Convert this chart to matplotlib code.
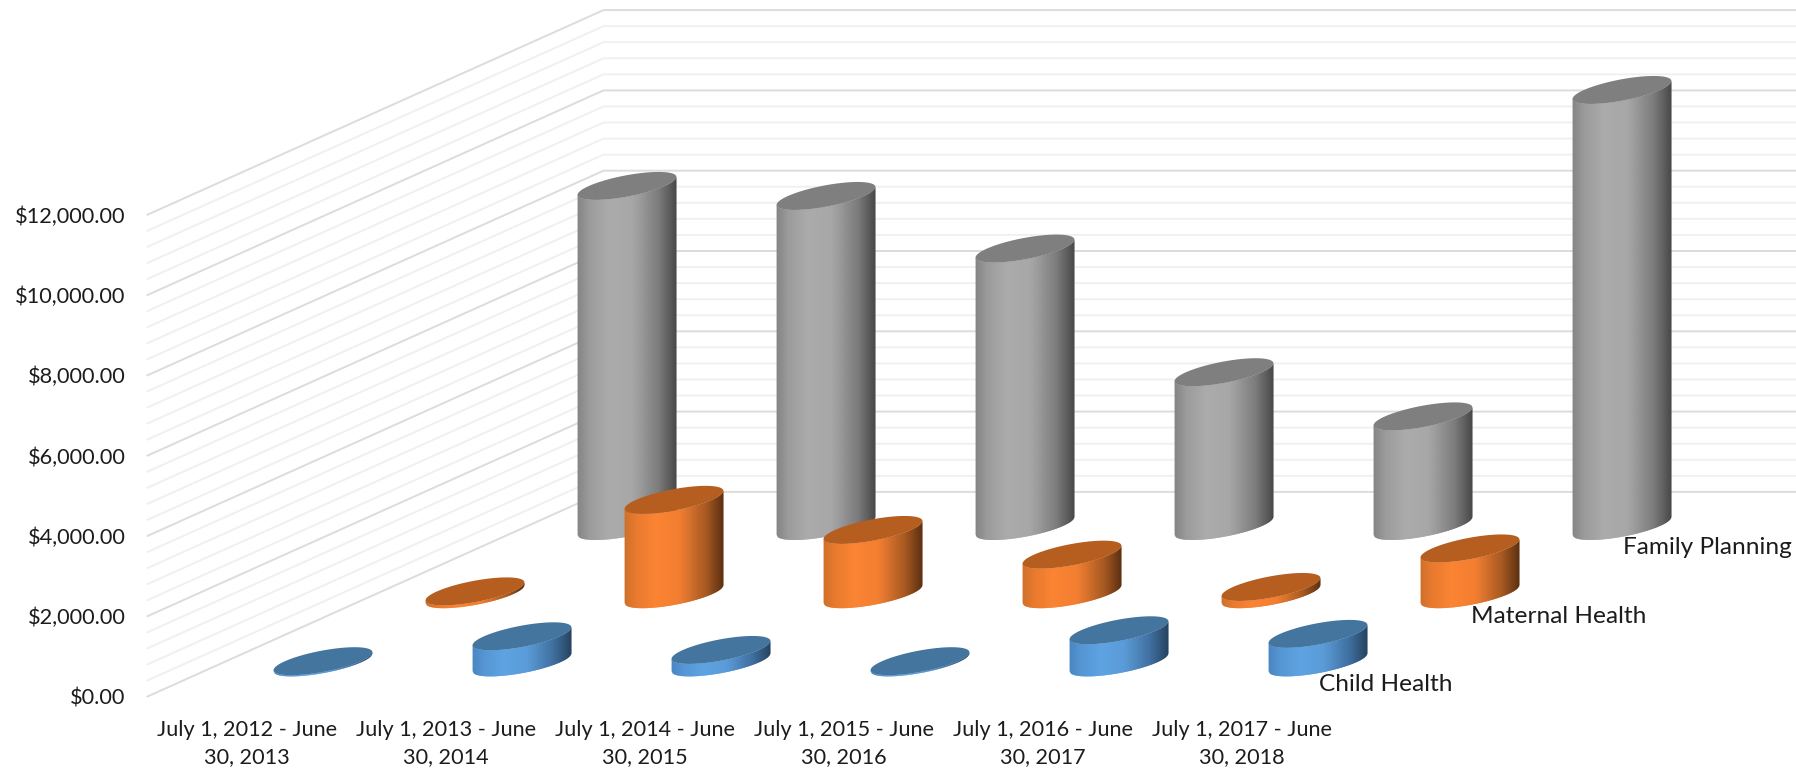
#!/usr/bin/env python3
"""
3D style cylinder chart: funding per fiscal year and health area.
Drawn with a small oblique projection onto a pixel sized axes.
"""

import numpy as np
import matplotlib
matplotlib.use("Agg")
import matplotlib.pyplot as plt
from matplotlib.collections import PolyCollection
from matplotlib.patches import Polygon

plt.rcParams['font.family'] = ['Lato', 'DejaVu Sans']

CATEGORIES = [
    "July 1, 2012 - June\n30, 2013",
    "July 1, 2013 - June\n30, 2014",
    "July 1, 2014 - June\n30, 2015",
    "July 1, 2015 - June\n30, 2016",
    "July 1, 2016 - June\n30, 2017",
    "July 1, 2017 - June\n30, 2018",
]
SERIES = ["Child Health", "Maternal Health", "Family Planning"]

CHILD_HEALTH = [30, 650, 310, 30, 800, 710]
MATERNAL_HEALTH = [70, 2350, 1600, 985, 180, 1140]
FAMILY_PLANNING = [8470, 8220, 6910, 3830, 2730, 10860]

Y_TICKS = [0, 2000, 4000, 6000, 8000, 10000, 12000]
MINOR_STEP = 400

# projection, all in figure pixels
ORIGIN = (147.5, 696.5)
CAT_STEP = 199.0
DEPTH_STEP = (152.0, 68.2)
PX_PER_UNIT = 80.3 / 2000.0

# cylinder ellipse
RX, SX, RY = 38.0, 31.6, 14.0

STYLES = [
    {"top": "#44759f",
     "side": ["#4a86c2", "#5596d4", "#5ea3e2", "#5a9bd8", "#3f6f9f", "#26435f"]},
    {"top": "#b55e20",
     "side": ["#cf702b", "#e97a2e", "#fb8433", "#f37e30", "#a85a22", "#5c3010"]},
    {"top": "#7f7f7f",
     "side": ["#858585", "#9b9b9b", "#ababab", "#a7a7a7", "#7c7c7c", "#484848"]},
]
STOPS = [0.0, 0.12, 0.32, 0.55, 0.82, 1.0]


def project(cat, depth, value=0.0):
    x = ORIGIN[0] + cat * CAT_STEP + depth * DEPTH_STEP[0]
    y = ORIGIN[1] - depth * DEPTH_STEP[1] - value * PX_PER_UNIT
    return x, y


def hex_rgb(colors):
    return np.array([matplotlib.colors.to_rgb(c) for c in colors])


def draw_cylinder(ax, cat, depth, value, style, z):
    cx, cy = project(cat + 0.5, depth + 0.5)
    height = value * PX_PER_UNIT
    half = np.hypot(RX, SX)

    # lower arc of the ellipse, left to right
    t0 = np.arctan2(SX, RX)
    t = np.linspace(t0 + np.pi, t0 + 2 * np.pi, 400)
    arc_x = RX * np.cos(t) + SX * np.sin(t)
    arc_y = -RY * np.sin(t)

    edges = np.linspace(-half, half, int(2 * half) + 1)
    rgb = hex_rgb(style["side"])
    polys, faces = [], []
    for a, b in zip(edges[:-1], edges[1:]):
        b2 = min(b + 0.8, half)
        ya = np.interp(a, arc_x, arc_y)
        yb = np.interp(b2, arc_x, arc_y)
        polys.append([(cx + a, cy + ya), (cx + b2, cy + yb),
                      (cx + b2, cy + yb - height), (cx + a, cy + ya - height)])
        frac = ((a + b) / 2 + half) / (2 * half)
        faces.append([np.interp(frac, STOPS, rgb[:, i]) for i in range(3)])
    ax.add_collection(PolyCollection(polys, facecolors=faces, edgecolors='none',
                                     antialiaseds=True, zorder=z))

    t = np.linspace(0, 2 * np.pi, 120)
    top = np.column_stack([cx + RX * np.cos(t) + SX * np.sin(t),
                           cy - height - RY * np.sin(t)])
    ax.add_patch(Polygon(top, closed=True, facecolor=style["top"], edgecolor='none',
                         zorder=z + 0.5))


def draw_walls(ax):
    n_cat = len(CATEGORIES)
    n_depth = len(SERIES)
    values = np.arange(0, Y_TICKS[-1] + MINOR_STEP, MINOR_STEP)
    # minor lines first so the major ones stay on top
    for major in (False, True):
        for v in values:
            if (v in Y_TICKS) != major:
                continue
            p0 = project(0, 0, v)
            p1 = project(0, n_depth, v)
            p2 = project(n_cat, n_depth, v)
            ax.plot([p0[0], p1[0], p2[0]], [p0[1], p1[1], p2[1]],
                    color='#dcdcdc' if major else '#f0f0f0',
                    lw=1.4, zorder=1, solid_joinstyle='miter')


def main():
    fig = plt.figure(figsize=(17.96, 7.76), dpi=100)
    ax = fig.add_axes([0, 0, 1, 1])
    ax.set_xlim(0, 1796)
    ax.set_ylim(776, 0)
    ax.axis('off')

    draw_walls(ax)

    all_values = [CHILD_HEALTH, MATERNAL_HEALTH, FAMILY_PLANNING]
    z = 10
    for depth in range(len(SERIES) - 1, -1, -1):
        for cat, value in enumerate(all_values[depth]):
            draw_cylinder(ax, cat, depth, value, STYLES[depth], z)
            z += 1

    text_color = '#1c1c1c'

    for v in Y_TICKS:
        x, y = project(0, 0, v)
        ax.text(x - 22, y + 2, f'${v:,.2f}', ha='right', va='center',
                fontsize=15.7, color=text_color, zorder=100)

    for i, label in enumerate(CATEGORIES):
        x, y = project(i + 0.5, 0)
        ax.text(x, y + 47, label, ha='center', va='center', linespacing=1.43,
                fontsize=15.6, color=text_color, zorder=100)

    for j, name in enumerate(SERIES):
        x, y = project(len(CATEGORIES) - 0.497, j + 0.5)
        ax.text(x, y + 22, name, ha='left', va='center',
                fontsize=17.6, color=text_color, zorder=100)

    fig.savefig('out.png', dpi=100)
    plt.close(fig)


if __name__ == '__main__':
    main()
